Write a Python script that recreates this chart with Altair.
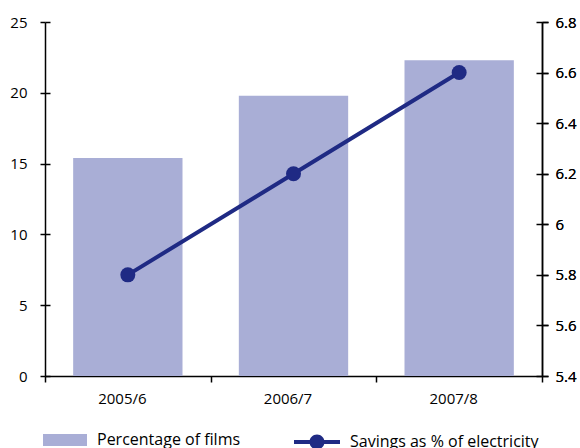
import altair as alt
import pandas as pd

# Data
periods = ["2005/6", "2006/7", "2007/8"]
films_pct = [15.4, 19.8, 22.3]
savings_pct = [5.8, 6.2, 6.6]

left_ticks = [0, 5, 10, 15, 20, 25]
right_ticks = [5.4, 5.6, 5.8, 6.0, 6.2, 6.4, 6.6, 6.8]

BAR_COLOR = "#a9aed6"
LINE_COLOR = "#1f2a84"
FONT = "Open Sans"
PLOT_W = 497
PLOT_H = 354

df = pd.DataFrame({"period": periods, "films": films_pct, "savings": savings_pct})

x_enc = alt.X(
    "period:N",
    sort=periods,
    scale=alt.Scale(paddingInner=0, paddingOuter=0),
    axis=alt.Axis(
        title=None,
        labelAngle=0,
        tickBand="extent",
        tickSize=6,
        labelPadding=9,
        labelOffset=-6,
    ),
)

films_scale = alt.Scale(domain=[0, 25], nice=False)
savings_scale = alt.Scale(domain=[5.4, 6.8], nice=False, zero=False)

bars = alt.Chart(df).mark_bar(width=alt.RelativeBandSize(0.66)).encode(
    x=x_enc,
    y=alt.Y(
        "films:Q",
        scale=films_scale,
        axis=alt.Axis(title=None, values=left_ticks, tickSize=5, labelPadding=13),
    ),
    fill=alt.Fill(
        "bar_label:N",
        scale=alt.Scale(range=[BAR_COLOR]),
        legend=alt.Legend(
            title=None,
            orient="none",
            legendX=-2,
            legendY=396,
            symbolType="M-1,-0.27L1,-0.27L1,0.27L-1,0.27Z",
            symbolSize=1936,
            symbolStrokeWidth=0,
            symbolOpacity=1,
            labelOffset=10,
        ),
    ),
).transform_calculate(bar_label="'Percentage of films'")

# inner half of the left-axis ticks (they cross the axis line)
left_inner_ticks = alt.Chart(df).mark_point(opacity=0).encode(
    y=alt.Y(
        "films:Q",
        scale=films_scale,
        axis=alt.Axis(
            title=None,
            orient="right",
            offset=-PLOT_W,
            values=left_ticks,
            tickSize=5,
            labels=False,
            domain=False,
        ),
    ),
)

right_axis = alt.Axis(
    title=None,
    orient="right",
    values=right_ticks,
    format=".1~f",
    tickSize=6,
    labelPadding=7,
)
y_right = alt.Y("savings:Q", scale=savings_scale, axis=right_axis)

line = alt.Chart(df).mark_line(color=LINE_COLOR, strokeWidth=4).encode(
    x=x_enc,
    y=y_right,
)

points = alt.Chart(df).mark_circle(size=225, opacity=1).encode(
    x=x_enc,
    y=y_right,
    fill=alt.Fill(
        "line_label:N",
        scale=alt.Scale(range=[LINE_COLOR]),
        legend=alt.Legend(
            title=None,
            orient="none",
            legendX=249,
            legendY=397,
            symbolType=(
                "M-1,-0.087L1,-0.087L1,0.087L-1,0.087Z "
                "M-0.326,0A0.326,0.326 0 1,1 0.326,0A0.326,0.326 0 1,1 -0.326,0Z"
            ),
            symbolSize=2116,
            symbolStrokeWidth=0,
            symbolOpacity=1,
            labelOffset=10,
        ),
    ),
).transform_calculate(line_label="'Savings as % of electricity'")

# inner half of the right-axis ticks
right_inner_ticks = alt.Chart(df).mark_point(opacity=0).encode(
    y=alt.Y(
        "savings:Q",
        scale=savings_scale,
        axis=alt.Axis(
            title=None,
            orient="left",
            offset=-PLOT_W,
            values=right_ticks,
            tickSize=6,
            labels=False,
            domain=False,
        ),
    ),
)

films_group = alt.layer(bars, left_inner_ticks).resolve_axis(y="independent")
savings_group = alt.layer(line, points, right_inner_ticks).resolve_axis(y="independent")

chart = (
    alt.layer(films_group, savings_group)
    .resolve_scale(y="independent", fill="independent")
    .properties(
        width=PLOT_W,
        height=PLOT_H,
        autosize="none",
        padding={"left": 45, "top": 22, "right": 38, "bottom": 72},
        background="white",
    )
    .configure_view(strokeWidth=0)
    .configure_axis(
        labelFont=FONT,
        labelFontSize=15,
        labelColor="black",
        domainColor="black",
        tickColor="black",
        domainWidth=1.5,
        tickWidth=1.5,
        grid=False,
    )
    .configure_legend(
        labelFont=FONT,
        labelFontSize=16,
        labelColor="black",
        labelLimit=0,
    )
)

chart.save("out.html", embed_options={"renderer": "svg", "actions": False})
